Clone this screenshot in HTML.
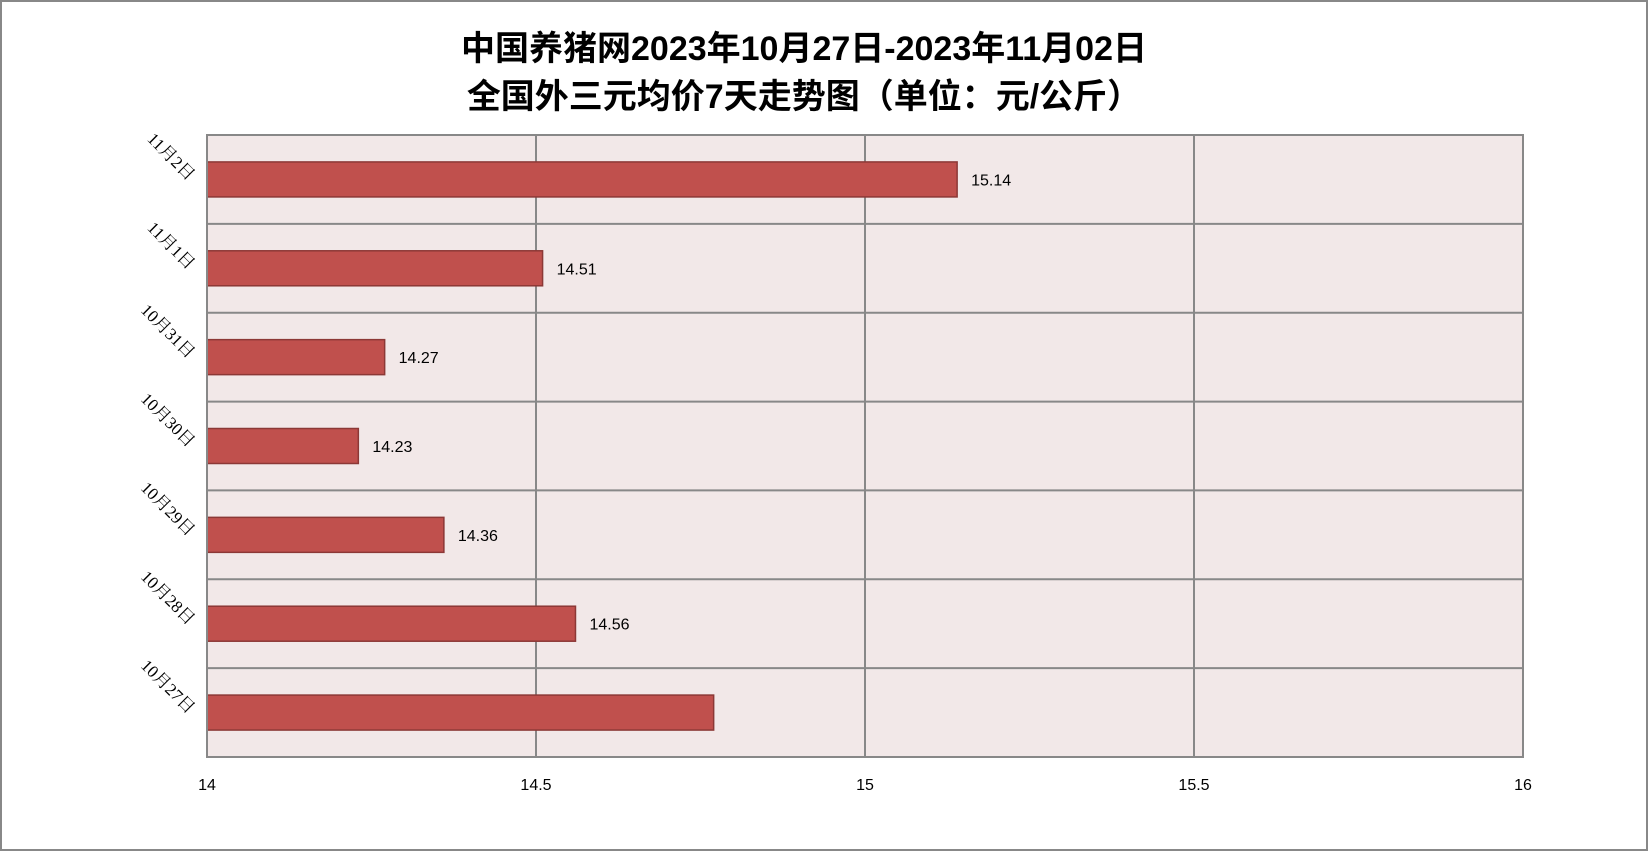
<!DOCTYPE html>
<html><head><meta charset="utf-8"><style>
html,body{margin:0;padding:0;background:#fff}
svg{display:block}
</style></head><body>
<svg id="chart" width="1649" height="852" xmlns="http://www.w3.org/2000/svg">
<rect x="1" y="1" width="1646" height="849" fill="#fff" stroke="#888" stroke-width="2"/>
<text x="804" y="60" text-anchor="middle" font-family="'Liberation Sans','Noto Sans CJK SC',sans-serif" font-weight="bold" font-size="34">中国养猪网2023年10月27日-2023年11月02日</text>
<text x="804" y="108" text-anchor="middle" font-family="'Liberation Sans','Noto Sans CJK SC',sans-serif" font-weight="bold" font-size="34">全国外三元均价7天走势图（单位：元/公斤）</text>
<g id="plot"></g>
</svg>
<script>
const categories = ["11月2日","11月1日","10月31日","10月30日","10月29日","10月28日","10月27日"];
const values = [15.14,14.51,14.27,14.23,14.36,14.56,14.77];
const labels = ["15.14","14.51","14.27","14.23","14.36","14.56",""];
const ticks = [14,14.5,15,15.5,16];
const tickLabels = ["14","14.5","15","15.5","16"];
const L=207,R=1523,T=135,B=757,xmin=14,xmax=16;
const ns="http://www.w3.org/2000/svg";
const g=document.getElementById('plot');
const x=v=>L+(v-xmin)/(xmax-xmin)*(R-L);
const band=(B-T)/categories.length;
function mk(t,a,txt){const e=document.createElementNS(ns,t);for(const k in a)e.setAttribute(k,a[k]);if(txt!==undefined)e.textContent=txt;g.appendChild(e);return e;}
let bg=mk('rect',{x:L,y:T,width:R-L,height:B-T,fill:'#F2E8E8'});


for(let i=1;i<categories.length;i++){const y=T+i*band;
 let l=mk('line',{x1:L,x2:R,y1:y,y2:y,stroke:'#888','stroke-width':2});
 
 }
ticks.forEach((t,i)=>{const xx=x(t);
 let l=mk('line',{x1:xx,x2:xx,y1:T,y2:B,stroke:'#888','stroke-width':2});
 
 
 let tx=mk('text',{x:xx,y:790,'text-anchor':'middle','font-family':"'Liberation Sans',sans-serif",'font-size':16},tickLabels[i]);
 
 });
categories.forEach((c,i)=>{const cy=T+band*(i+0.5),bh=35;
 let r=mk('rect',{x:L,y:cy-bh/2,width:x(values[i])-L,height:bh,fill:'#C0504D',stroke:'#8C3836','stroke-width':1.5});
 
 
 if(labels[i]){let v=mk('text',{x:x(values[i])+14,y:cy+6,'font-family':"'Liberation Sans',sans-serif",'font-size':16},labels[i]);
 
 }
 let t=mk('text',{x:0,y:0,'text-anchor':'end','font-family':"'Liberation Serif','Noto Serif CJK SC',serif",'font-size':17,transform:`translate(188,${cy+2}) rotate(45)`},c);
 
 });
let fr=mk('rect',{x:L,y:T,width:R-L,height:B-T,fill:'none',stroke:'#888','stroke-width':2});


</script>
</body></html>
